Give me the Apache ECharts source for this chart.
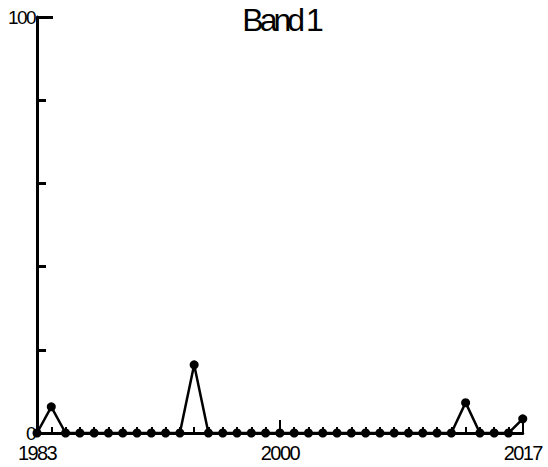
<!DOCTYPE html>
<html>
<head>
<meta charset="utf-8">
<script src="https://cdn.jsdelivr.net/npm/echarts@6/dist/echarts.min.js"></script>
<style>
html,body{margin:0;padding:0;background:#fff}
#c{width:548px;height:467px}
#c svg text{letter-spacing:-1.6px}
#c svg text[style*="32px"]{letter-spacing:-4px}
</style>
</head>
<body>
<div id="c"></div>
<script>
var title = 'Band 1';
var years = [1983,1984,1985,1986,1987,1988,1989,1990,1991,1992,1993,1994,1995,1996,1997,1998,1999,2000,2001,2002,2003,2004,2005,2006,2007,2008,2009,2010,2011,2012,2013,2014,2015,2016,2017];
var values = [0,6.3,0,0,0,0,0,0,0,0,0,16.4,0,0,0,0,0,0,0,0,0,0,0,0,0,0,0,0,0,0,7.3,0,0,0,3.4];
var xTickLabels = [1983, 2000, 2017];
var yTickLabels = [0, 100];

var FONT = '"Liberation Sans", Arial, sans-serif';
var chart = echarts.init(document.getElementById('c'), null, {renderer: 'svg'});
chart.setOption({
  animation: false,
  backgroundColor: '#fff',
  title: {
    text: title, left: 276, textAlign: 'center', top: -1,
    textStyle: {fontFamily: FONT, fontSize: 32, fontWeight: 'normal', color: '#000'}
  },
  grid: {left: 37, right: 22, top: 17, bottom: 34, containLabel: false},
  xAxis: {
    type: 'value', min: 1983, max: 2017, interval: 17,
    axisLine: {lineStyle: {color: '#000', width: 3}},
    axisTick: {inside: true, length: 13, lineStyle: {color: '#000', width: 2}},
    minorTick: {show: true, splitNumber: 17, length: 6, lineStyle: {color: '#000', width: 2}},
    splitLine: {show: false},
    axisLabel: {
      color: '#000', fontFamily: FONT, fontSize: 20, margin: 10,
      formatter: function (v) { return xTickLabels.indexOf(v) >= 0 ? String(v) : ''; }
    }
  },
  yAxis: {
    type: 'value', min: 0, max: 100, interval: 100,
    axisLine: {show: true, lineStyle: {color: '#000', width: 3}},
    axisTick: {inside: true, length: 16, lineStyle: {color: '#000', width: 3}},
    minorTick: {show: true, splitNumber: 5, length: 9, lineStyle: {color: '#000', width: 3}},
    splitLine: {show: false},
    axisLabel: {
      color: '#000', fontFamily: FONT, fontSize: 19, margin: 2, padding: [0, 0, 3, 0],
      formatter: function (v) { return yTickLabels.indexOf(v) >= 0 ? String(v) : ''; }
    }
  },
  series: [{
    type: 'line',
    data: years.map(function (y, i) { return [y, values[i]]; }),
    symbol: 'circle', symbolSize: 9, showSymbol: true,
    lineStyle: {color: '#000', width: 2.5},
    itemStyle: {color: '#000'},
    z: 5, clip: false
  }]
});
</script>
</body>
</html>
